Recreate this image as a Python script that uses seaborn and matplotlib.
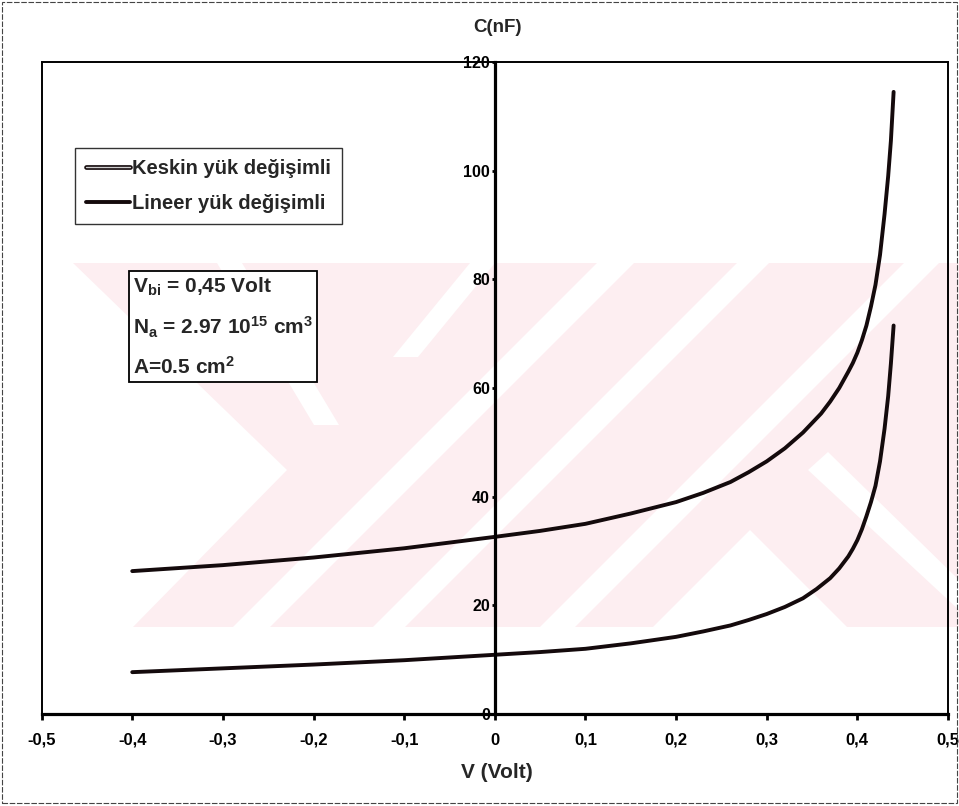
import numpy as np
import pandas as pd
import matplotlib
matplotlib.use('Agg')
import matplotlib.pyplot as plt
import matplotlib.patheffects as pe
import seaborn as sns
from matplotlib import font_manager
from matplotlib.patches import Polygon, Rectangle
from matplotlib.lines import Line2D

# değerler
v_lineer = [-0.40, -0.30, -0.20, -0.10, 0.00, 0.05, 0.10, 0.15, 0.20, 0.23, 0.26, 0.28,
            0.30, 0.32, 0.34, 0.36, 0.37, 0.38, 0.39, 0.395, 0.40, 0.405, 0.41, 0.415,
            0.42, 0.425, 0.43, 0.434, 0.437, 0.44]
c_lineer = [26.3, 27.4, 28.8, 30.5, 32.6, 33.7, 35.0, 36.9, 39.0, 40.7, 42.7, 44.5,
            46.5, 48.9, 51.8, 55.3, 57.5, 60.0, 63.0, 64.6, 66.5, 68.8, 71.5, 75.0,
            79.0, 84.5, 92.0, 99.0, 105.5, 114.5]

v_keskin = [-0.40, -0.35, -0.30, -0.25, -0.20, -0.15, -0.10, -0.05, 0.00, 0.05, 0.10,
            0.15, 0.20, 0.23, 0.26, 0.28, 0.30, 0.32, 0.34, 0.355, 0.37, 0.38, 0.39,
            0.395, 0.40, 0.405, 0.41, 0.415, 0.42, 0.425, 0.43, 0.434, 0.437, 0.44]
c_keskin = [7.7, 8.05, 8.4, 8.75, 9.1, 9.5, 9.9, 10.4, 10.9, 11.4, 12.0,
            13.0, 14.2, 15.2, 16.3, 17.3, 18.4, 19.7, 21.3, 23.0, 25.0, 26.8, 29.0,
            30.4, 32.0, 34.0, 36.4, 39.0, 42.0, 46.5, 52.5, 58.5, 64.5, 71.5]

seri_adlari = ['Keskin yük değişimli', 'Lineer yük değişimli']
x_ticks = [-0.5, -0.4, -0.3, -0.2, -0.1, 0.0, 0.1, 0.2, 0.3, 0.4, 0.5]
x_tick_labels = ['-0,5', '-0,4', '-0,3', '-0,2', '-0,1', '0', '0,1', '0,2', '0,3', '0,4', '0,5']
y_ticks = [0, 20, 40, 60, 80, 100, 120]
kutu_metni = [r'V$_{bi}$ = 0,45 Volt', r'N$_a$ = 2.97 10$^{15}$ cm$^3$', r'A=0.5 cm$^2$']

df = pd.concat([
    pd.DataFrame({'V': v_keskin, 'C': c_keskin, 'seri': seri_adlari[0]}),
    pd.DataFrame({'V': v_lineer, 'C': c_lineer, 'seri': seri_adlari[1]}),
])


def font_sec():
    for ad in ['Liberation Sans Narrow', 'Liberation Sans', 'DejaVu Sans']:
        try:
            font_manager.findfont(font_manager.FontProperties(family=ad), fallback_to_default=False)
            return ad
        except ValueError:
            pass
    return 'DejaVu Sans'


sns.set_theme(style='white')
fnt = font_sec()
plt.rcParams['font.family'] = [fnt, 'DejaVu Sans']
plt.rcParams['font.weight'] = 'bold'
plt.rcParams['mathtext.fontset'] = 'custom'
plt.rcParams['mathtext.rm'] = fnt + ':bold'
plt.rcParams['mathtext.it'] = fnt + ':bold'
plt.rcParams['mathtext.bf'] = fnt + ':bold'
plt.rcParams['mathtext.default'] = 'rm'

W, H = 959, 806
fig = plt.figure(figsize=(W / 100, H / 100), dpi=100)


def px(x, y):
    return (x / W, 1 - y / H)


# soluk pembe filigran
pembe = '#fdeef1'
fig.add_artist(Polygon([px(73, 263), px(959, 263), px(959, 627), px(73, 627)],
                       closed=True, transform=fig.transFigure, fc=pembe, ec='none', zorder=-2))
beyazlar = [
    [(73, 263), (287, 470), (133, 627), (73, 627)],
    [(217, 263), (242, 263), (339, 425), (314, 425)],
    [(393, 357), (418, 357), (495, 263), (470, 263)],
    [(233, 627), (270, 627), (634, 263), (597, 263)],
    [(373, 627), (405, 627), (769, 263), (737, 263)],
    [(540, 627), (575, 627), (939, 263), (904, 263)],
    [(653, 627), (750, 530), (847, 627)],
    [(808, 470), (828, 452), (959, 580), (959, 610)],
]
for pts in beyazlar:
    fig.add_artist(Polygon([px(*p) for p in pts], closed=True, transform=fig.transFigure,
                           fc='white', ec='none', zorder=-1))

# dış çerçeve
fig.add_artist(Rectangle(px(2, 803), 955 / W, 801 / H, fill=False, ec='#444444',
                         lw=0.8, ls=(0, (5, 1.5)), transform=fig.transFigure))

ax = fig.add_axes([41.6 / W, 1 - 714 / H, (948 - 41.6) / W, (714 - 62) / H])
ax.set_facecolor('none')

renkler = {seri_adlari[0]: '#140a0c', seri_adlari[1]: '#140a0c'}
sns.lineplot(data=df, x='V', y='C', hue='seri', palette=renkler, sort=False,
             estimator=None, legend=False, linewidth=2.8, ax=ax)
for ln in ax.lines:
    ln.set_solid_capstyle('round')
    ln.set_solid_joinstyle('round')

ax.set_xlim(-0.5, 0.5)
ax.set_ylim(0, 120)
ax.set_xticks(x_ticks, x_tick_labels)
ax.set_yticks(y_ticks)
ax.set_xlabel('')
ax.set_ylabel('')

ax.spines['left'].set_position(('data', 0))
ax.spines['left'].set_linewidth(2.3)
ax.spines['bottom'].set_linewidth(2.3)
ax.spines['top'].set_linewidth(1.4)
ax.spines['right'].set_linewidth(1.4)
for s in ax.spines.values():
    s.set_color('black')
ax.axvline(-0.5, color='black', lw=1.4, clip_on=False)

ax.tick_params(axis='x', direction='out', length=4.5, width=2, pad=9,
               labelsize=12, colors='black', bottom=True)
ax.tick_params(axis='y', direction='out', length=2.5, width=2, pad=1,
               labelsize=11.5, colors='black', left=True)
for t in ax.get_xticklabels() + ax.get_yticklabels():
    t.set_fontweight('bold')

fig.text(*px(497, 28), 'C(nF)', ha='center', va='center', fontsize=13.5, fontweight='bold')
fig.text(*px(497, 772), 'V (Volt)', ha='center', va='center', fontsize=15, fontweight='bold')

h_keskin = Line2D([], [], color='#cfcfcf', lw=1.0,
                  path_effects=[pe.Stroke(linewidth=3.4, foreground='#140a0c'), pe.Normal()])
h_lineer = Line2D([], [], color='#140a0c', lw=2.8)
leg = ax.legend([h_keskin, h_lineer], seri_adlari, loc='upper left', bbox_to_anchor=px(75, 148),
                bbox_transform=fig.transFigure, borderaxespad=0, frameon=True,
                fancybox=False, handlelength=2.2, handletextpad=0.1, borderpad=0.55,
                labelspacing=0.8, prop={'size': 14.5, 'weight': 'bold'})
leg.get_frame().set_edgecolor('black')
leg.get_frame().set_linewidth(1.0)

fig.text(*px(133, 276), '\n'.join(kutu_metni), ha='left', va='top', fontsize=15,
         fontweight='bold', linespacing=1.85,
         bbox=dict(boxstyle='square,pad=0.2', fc='white', ec='black', lw=1.3))

fig.savefig('out.png', dpi=100)
